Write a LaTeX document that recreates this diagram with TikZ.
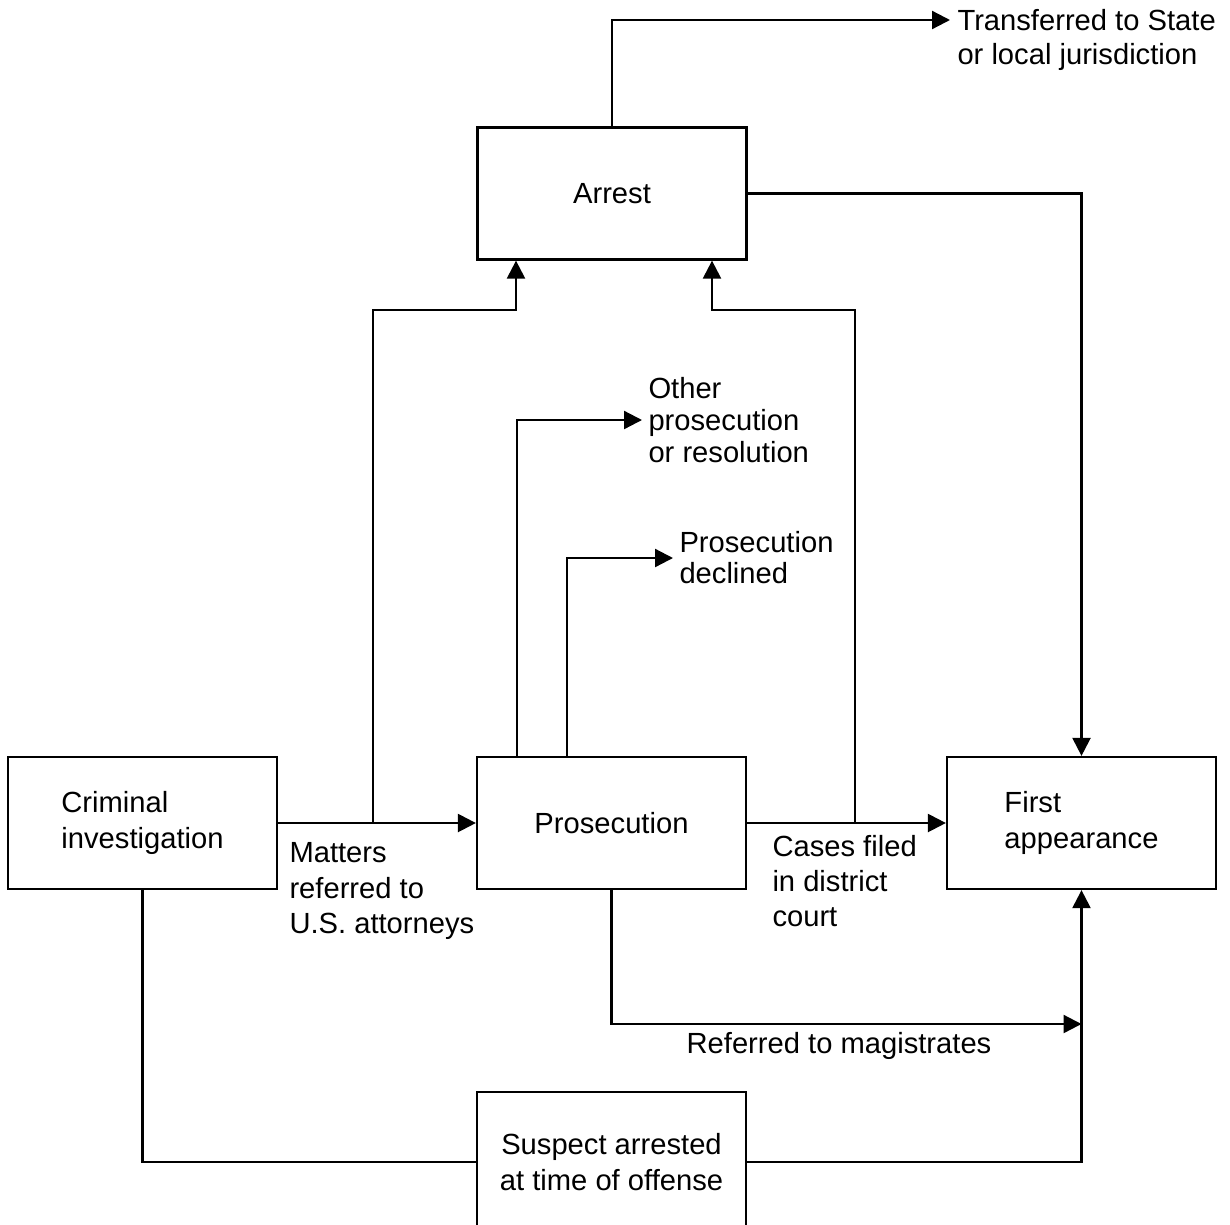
\documentclass[tikz,border=0pt]{standalone}
\usepackage{fontspec}
\setmainfont{Liberation Sans}
\usetikzlibrary{arrows.meta,positioning}

\begin{document}
\begin{tikzpicture}[x=0.02cm, y=-0.02cm,
        every node/.style={font=\fontsize{16.6}{20}\selectfont},
        box/.style={draw, line width=1.3pt, minimum width=5.38cm, minimum height=2.64cm, align=center},
        flow/.style={line width=1.3pt},
        arr/.style={flow, -{Triangle[length=0.36cm, width=0.36cm]}},
        lbl/.style={align=left, inner xsep=3.5pt, inner ysep=0pt}]
        \useasboundingbox (0,0) rectangle (1230,1224);

        % Boxes
        \node[box] (arrest) at (612,193.5) {Arrest};
        \node[box, align=left] (invest) at (142.5,823) {Criminal\\investigation};
        \node[box] (pros) at (611.5,823) {Prosecution};
        \node[box, align=left] (first) at (1081.5,823) {First\\appearance};
        \node[box, minimum height=2.8cm] (suspect) at (611.5,1162) {Suspect arrested\\at time of offense};

        % Outcome labels
        \node[lbl, anchor=west, font=\fontsize{16.6}{19.6}\selectfont] (trans) at (951,40) {Transferred to State\\or local jurisdiction};
        \node[lbl, anchor=west, font=\fontsize{16.6}{18.2}\selectfont] (other) at (642,420) {Other\\prosecution\\or resolution};
        \node[lbl, anchor=west, font=\fontsize{16.6}{17.6}\selectfont] (declined) at (673,558) {Prosecution\\declined};
        \node[lbl, anchor=west] (matters) at (283,891) {Matters\\referred to\\U.S. attorneys};
        \node[lbl, anchor=west] (cases) at (766,881) {Cases filed\\in district\\court};
        \node[lbl] (magist) at (839,1046) {Referred to magistrates};

        % Bend points
        \coordinate (transTip) at (950,20);
        \coordinate (mSplit) at (373,823);
        \coordinate (mBend) at (516,310);
        \coordinate (cSplit) at (855,823);
        \coordinate (cBend) at (712,310);
        \coordinate (magTip) at (1081.5,1024);

        % Arrest paths
        \draw[arr] (arrest.north) |- (transTip);
        \draw[arr] (arrest.east) -| (first.north);
        \draw[arr] (mSplit) |- (mBend) -- (mBend |- arrest.south);
        \draw[arr] (cSplit) |- (cBend) -- (cBend |- arrest.south);

        % Main line
        \draw[arr] (invest.east) -- (pros.west);
        \draw[arr] (pros.east) -- (first.west);

        % Prosecution outcomes
        \draw[arr] ([xshift=-1.89cm]pros.north) |- (other.west);
        \draw[arr] ([xshift=-0.89cm]pros.north) |- (declined.west);
        \draw[arr] (pros.south) |- (magTip);

        % Arrest at time of offense
        \draw[flow] (invest.south) |- (suspect.west);
        \draw[arr] (suspect.east) -| (first.south);
    \end{tikzpicture}
\end{document}
